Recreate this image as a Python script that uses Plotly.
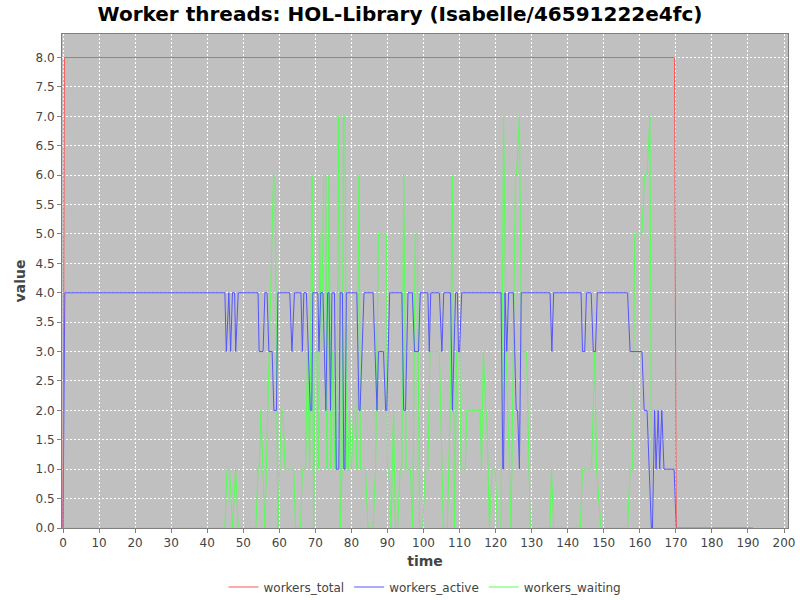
import plotly.graph_objects as go

# workers_total
total_t = [0, 0.4, 169.6, 170.1, 191.4]
total_v = [0, 8, 8, 0, 0]

# workers_active
active_t = [0, 0.5,
            44.9, 45.3, 46.0, 46.5, 47.0, 47.6, 47.9, 48.6,
            54.1, 54.4, 55.5, 56.0, 56.6, 57.1, 58.0, 58.5, 59.2, 59.6,
            62.9, 63.5, 64.2,
            66.0, 66.4, 66.8, 67.5, 68.6, 69.0, 69.3,
            70.7, 71.0, 71.5, 72.1, 72.9, 73.4, 73.8, 74.2, 74.6, 75.3,
            75.8, 76.5, 76.9, 77.5, 77.9, 78.2, 78.6,
            81.5, 82.1, 82.4, 83.5, 86.0, 87.1, 87.5, 88.9, 89.5, 89.8, 90.6,
            94.0, 94.5, 95.0, 95.7, 96.9, 97.5, 98.6, 99.1,
            101.2, 101.6, 102.0, 104.4, 105.1, 105.6, 107.5, 108.0, 108.9,
            109.4, 109.7, 110.0, 110.6,
            121.5, 122.0, 122.2, 122.6, 123.1, 123.6, 124.9, 125.7, 126.1,
            126.6, 127.1,
            135.1, 135.6, 136.1,
            143.7, 144.1, 144.7, 145.2, 146.5, 147.1, 147.7, 148.2,
            156.6, 157.3, 160.6, 161.2, 162.0, 163.2, 163.5, 164.1, 164.5,
            165.1, 165.5, 166.1, 166.7, 169.5, 170.1]
active_v = [0, 4,
            4, 3, 4, 3, 4, 4, 3, 4,
            4, 3, 3, 4, 4, 3, 3, 2, 2, 4,
            4, 3, 4,
            4, 3, 4, 4, 2, 2, 4,
            4, 3, 4, 4, 2, 4, 4, 2, 4, 4,
            1, 1, 4, 4, 1, 1, 4,
            4, 2, 2, 4, 4, 2, 3, 3, 2, 2, 4,
            4, 2, 2, 4, 4, 3, 3, 4,
            4, 3, 4, 4, 3, 4, 4, 2, 4,
            4, 3, 3, 4,
            4, 1, 1, 4, 3, 4, 4, 2, 2,
            1, 4,
            4, 3, 4,
            4, 3, 3, 4, 4, 3, 3, 4,
            4, 3, 3, 2, 2, 0, 0, 2, 1,
            2, 1, 2, 1, 1, 0]

# workers_waiting
waiting_t = [0, 44.9, 45.5, 46.2, 47.0, 47.9, 48.6,
             53.5, 54.1, 54.4, 54.9, 56.0, 58.4, 58.8, 59.6, 60.6, 61.0, 61.6,
             64.0, 64.5,
             65.9, 66.4, 67.3, 67.8, 68.4, 69.1, 69.5, 70.0, 70.5, 70.9, 71.2,
             71.7, 72.3, 72.9, 73.2, 73.8, 74.3, 74.9, 75.4, 75.9, 76.5, 76.9,
             77.4, 77.8, 78.2, 78.7, 79.1, 79.5, 80.0, 80.6, 81.1, 81.5, 82.1,
             82.5, 83.4, 83.9, 84.6, 86.0, 86.7, 87.5,
             89.7, 90.0, 90.4, 91.0, 91.7, 92.2, 92.8, 93.5, 94.0, 94.5, 95.2,
             96.4, 97.0, 97.7, 98.3, 98.9, 99.8, 100.5, 101.2, 101.8, 104.4,
             105.5, 106.6, 107.4, 108.0, 108.6, 109.2, 110.0, 110.4, 111.6,
             112.0, 115.7, 116.1, 116.6, 117.2, 117.5, 118.3, 119.0, 119.9,
             120.5, 121.5, 122.2, 122.9, 124.3, 125.5, 125.8, 126.6, 127.2,
             128.6, 129.6,
             135.1, 135.5, 136.1, 143.5, 144.1, 146.6, 147.5, 148.0, 149.2,
             156.6, 157.3, 158.0, 158.6, 160.6, 161.3, 162.0, 162.8, 163.3,
             170.1]
waiting_v = [0, 0, 1, 1, 0, 1, 0,
             0, 1, 1, 2, 0, 6, 6, 0, 2, 2, 1,
             1, 0,
             0, 1, 1, 3, 1, 6, 0, 3, 3, 1, 5,
             3, 6, 6, 1, 6, 1, 3, 1, 1, 7, 0,
             1, 7, 7, 1, 1, 2, 1, 2, 2, 1, 6,
             1, 1, 1, 0, 0, 1, 5,
             5, 1, 1, 0, 2, 0, 0, 1, 1, 6, 1,
             1, 0, 5, 5, 0, 0, 1, 1, 3, 3,
             0, 0, 2, 6, 0, 3, 3, 1, 1,
             2, 2, 1, 3, 2, 2, 0, 1, 1,
             0, 0, 7, 3, 0, 6, 6, 7, 3,
             3, 0,
             0, 1, 0, 0, 1, 1, 3, 1, 0,
             0, 1, 1, 5, 5, 6, 6, 7, 0,
             0]

x_ticks = list(range(0, 201, 10))
y_ticks = [i * 0.5 for i in range(17)]

FONT = "DejaVu Sans"
fig = go.Figure()
fig.add_trace(go.Scatter(x=waiting_t, y=waiting_v, mode="lines", name="workers_waiting",
                         line=dict(color="#55FF55", width=1), legendrank=3))
fig.add_trace(go.Scatter(x=active_t, y=active_v, mode="lines", name="workers_active",
                         line=dict(color="#5555FF", width=1), legendrank=2))
fig.add_trace(go.Scatter(x=total_t, y=total_v, mode="lines", name="workers_total",
                         line=dict(color="#FF5555", width=1), legendrank=1))

fig.update_layout(
    width=800, height=600,
    margin=dict(l=62, r=12, t=34, b=72, autoexpand=False),
    paper_bgcolor="white",
    plot_bgcolor="#C0C0C0",
    font=dict(family=FONT, size=12, color="#444444"),
    title=dict(text="<b>Worker threads: HOL-Library (Isabelle/46591222e4fc)</b>",
               x=0.5, xanchor="center", y=1 - 7 / 600, yanchor="top",
               yref="container", font=dict(family=FONT, size=20, color="black")),
    legend=dict(orientation="h", x=0.5, xanchor="center", y=(528 - 587) / 494,
                yanchor="middle", yref="paper",
                font=dict(family=FONT, size=12, color="#444444"),
                traceorder="normal", itemwidth=30, bgcolor="rgba(0,0,0,0)"),
    showlegend=True,
)
fig.update_xaxes(
    range=[-0.28, 201.1], tickvals=x_ticks, ticktext=[str(v) for v in x_ticks],
    automargin=False,
    showgrid=True, gridcolor="white", griddash="2px,2px", gridwidth=1,
    zeroline=False, showline=True, linecolor="#808080", linewidth=1, mirror=True,
    ticks="outside", ticklen=4, tickcolor="#808080",
    tickfont=dict(family=FONT, size=12, color="#444444"),
    title=dict(text="<b>time</b>", font=dict(family=FONT, size=14, color="#444444"), standoff=6),
)
fig.update_yaxes(
    range=[0, 8.4], tickvals=y_ticks, ticktext=[f"{v:.1f}" for v in y_ticks],
    automargin=False,
    showgrid=True, gridcolor="white", griddash="2px,2px", gridwidth=1,
    zeroline=False, showline=True, linecolor="#808080", linewidth=1, mirror=True,
    ticks="outside", ticklen=4, tickcolor="#808080",
    tickfont=dict(family=FONT, size=12, color="#444444"),
    title=dict(text="<b>value</b>", font=dict(family=FONT, size=14, color="#444444"), standoff=6),
)

fig.write_html("out.html", config={"displayModeBar": False},
               post_script="document.body.style.margin='0';document.body.style.padding='0';document.body.style.overflow='hidden';")
